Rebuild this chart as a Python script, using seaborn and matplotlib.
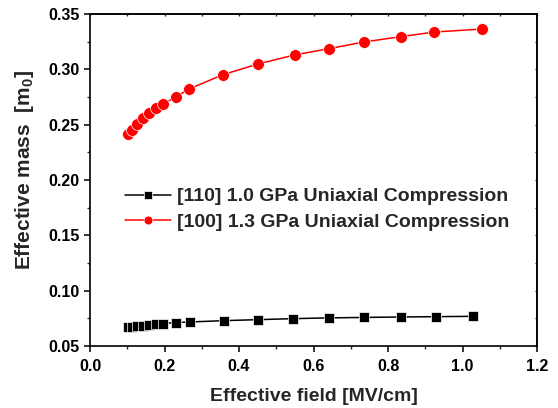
import matplotlib
matplotlib.use("Agg")
import matplotlib.pyplot as plt
import seaborn as sns
import pandas as pd

# Data
field_110 = [0.103, 0.112, 0.125, 0.142, 0.159, 0.177, 0.195, 0.231, 0.268, 0.359, 0.452, 0.546, 0.642, 0.736, 0.835, 0.929, 1.027]
mass_110 = [0.0668, 0.0673, 0.0679, 0.0685, 0.0691, 0.0697, 0.0703, 0.0712, 0.0717, 0.0729, 0.0738, 0.0747, 0.0754, 0.0758, 0.0762, 0.0765, 0.0768]
field_100 = [0.103, 0.112, 0.125, 0.142, 0.159, 0.177, 0.195, 0.230, 0.266, 0.357, 0.451, 0.549, 0.642, 0.735, 0.834, 0.924, 1.053]
mass_100 = [0.2413, 0.2452, 0.2503, 0.2558, 0.2603, 0.2648, 0.2684, 0.2750, 0.2822, 0.2952, 0.3048, 0.3130, 0.3187, 0.3247, 0.3295, 0.3337, 0.3364]
label_110 = "[110] 1.0 GPa Uniaxial Compression"
label_100 = "[100] 1.3 GPa Uniaxial Compression"
x_ticks = [0.0, 0.2, 0.4, 0.6, 0.8, 1.0, 1.2]
y_ticks = [0.05, 0.10, 0.15, 0.20, 0.25, 0.30, 0.35]
x_minor = [0.1, 0.3, 0.5, 0.7, 0.9, 1.1]
y_minor = [0.075, 0.125, 0.175, 0.225, 0.275, 0.325]

sns.set_style("ticks")
plt.rcParams['font.family'] = ['Liberation Sans', 'DejaVu Sans']
plt.rcParams['font.weight'] = 'bold'
plt.rcParams['mathtext.fontset'] = 'custom'
plt.rcParams['mathtext.rm'] = 'Liberation Sans:bold'
plt.rcParams['mathtext.bf'] = 'Liberation Sans:bold'

fig = plt.figure(figsize=(5.58, 4.08), dpi=100)
ax = fig.add_axes([0.1613, 0.152, 0.9624 - 0.1613, 0.9657 - 0.152])

df110 = pd.DataFrame({"x": field_110, "y": mass_110})
df100 = pd.DataFrame({"x": field_100, "y": mass_100})

sns.lineplot(data=df110, x="x", y="y", ax=ax, color="black", marker="s", markersize=7,
             markeredgecolor="white", markeredgewidth=0.5, linewidth=1.1, label=label_110)
sns.lineplot(data=df100, x="x", y="y", ax=ax, color="#ff0000", marker="o", markersize=8.5,
             markeredgecolor="white", markeredgewidth=0.5, linewidth=1.1, label=label_100)

ax.set_xlim(0.0, 1.2)
ax.set_ylim(0.05, 0.35)
ax.set_xticks(x_ticks)
ax.set_yticks(y_ticks)
ax.set_xticklabels([f"{v:.1f}" for v in x_ticks], fontweight="bold", fontsize=11.5)
ax.set_yticklabels([f"{v:.2f}" for v in y_ticks], fontweight="bold", fontsize=11.5)
ax.set_xticks(x_minor, minor=True)
ax.set_yticks(y_minor, minor=True)

ax.tick_params(axis="both", which="major", direction="out", length=4.5, width=1.1,
               colors="black")
ax.tick_params(axis="x", which="major", pad=5)
ax.tick_params(axis="y", which="major", pad=3)
ax.tick_params(axis="both", which="minor", direction="out", length=2.5, width=1.0)
for s in ax.spines.values():
    s.set_visible(True)
    s.set_linewidth(1.2)
    s.set_color("black")

# mirrored tiny ticks on top/right
secx = ax.secondary_xaxis("top")
secx.set_xticks(x_ticks + x_minor)
secx.tick_params(direction="in", length=1.5, width=1.0, labeltop=False)
secx.spines["top"].set_linewidth(1.2)
secy = ax.secondary_yaxis("right")
secy.set_yticks(y_ticks + y_minor)
secy.tick_params(direction="in", length=1.5, width=1.0, labelright=False)
secy.spines["right"].set_linewidth(1.2)

ax.set_xlabel("Effective field [MV/cm]", fontsize=14, fontweight="bold", labelpad=10)
ax.set_ylabel(r"Effective mass  [m$_\mathbf{0}$]", fontsize=15, fontweight="bold")
ax.yaxis.set_label_coords(-0.12, 0.53)

leg = ax.legend(loc="upper left", bbox_to_anchor=(0.06, 0.50), frameon=False,
                prop={"size": 14, "weight": "bold"}, markerscale=0.75, handlelength=2.4,
                handletextpad=0.3, labelspacing=0.4, borderaxespad=0)

fig.savefig("out.png", dpi=100)
